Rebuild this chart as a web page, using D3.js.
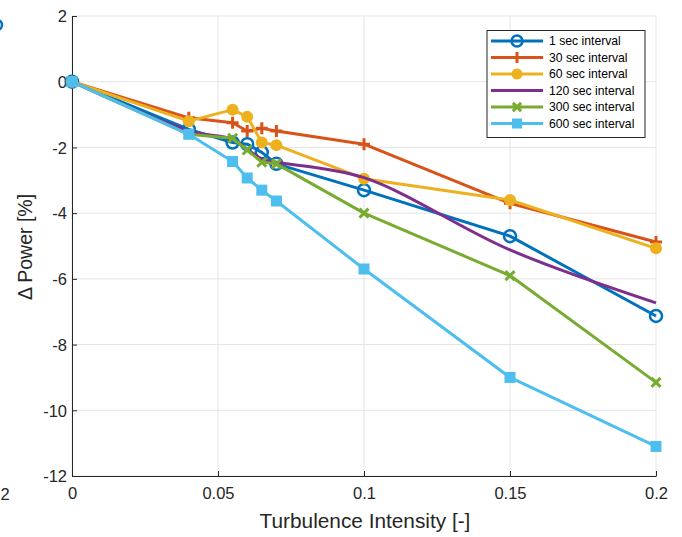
<!DOCTYPE html>
<html><head><meta charset="utf-8">
<script src="https://cdn.jsdelivr.net/npm/d3@7"></script>
<style>body{margin:0;background:#fff;}svg{display:block;font-family:"Liberation Sans",Arial,sans-serif;}</style>
</head><body><svg id="c" width="682" height="537"></svg>
<script>
const xVals = [0, 0.04, 0.055, 0.06, 0.065, 0.07, 0.1, 0.15, 0.2];
const sec1   = [0, -1.45, -1.85, -1.9, -2.15, -2.5, -3.3, -4.7, -7.13];
const sec30  = [0, -1.1, -1.25, -1.5, -1.42, -1.5, -1.9, -3.7, -4.88];
const sec60  = [0, -1.2, -0.85, -1.07, -1.85, -1.93, -2.95, -3.6, -5.07];
const sec120 = [0, -1.5, -1.75, -2.05, -2.35, -2.45, -2.92, -5.12, -6.73];
const sec300 = [0, -1.6, -1.72, -2.08, -2.45, -2.5, -4.0, -5.9, -9.15];
const sec600 = [0, -1.6, -2.43, -2.93, -3.3, -3.63, -5.7, -9.0, -11.1];
const seriesNames = ["1 sec interval","30 sec interval","60 sec interval","120 sec interval","300 sec interval","600 sec interval"];
const xTicks = [0, 0.05, 0.1, 0.15, 0.2];
const xTickLabels = ["0","0.05","0.1","0.15","0.2"];
const yTicks = [-12,-10,-8,-6,-4,-2,0,2];
const yTickLabels = ["-12","-10","-8","-6","-4","-2","0","2"];

const series = [
  {name:seriesNames[0], v:sec1, color:"#0072BD", marker:"circle"},
  {name:seriesNames[1], v:sec30, color:"#D95319", marker:"plus"},
  {name:seriesNames[2], v:sec60, color:"#EDB120", marker:"dot"},
  {name:seriesNames[3], v:sec120, color:"#7E2F8E", marker:"none", smooth:true},
  {name:seriesNames[4], v:sec300, color:"#77AC30", marker:"x"},
  {name:seriesNames[5], v:sec600, color:"#4DBEEE", marker:"square"}
];

const svg = d3.select("#c");
const x = d3.scaleLinear().domain([0,0.2]).range([72,656]);
const y = d3.scaleLinear().domain([-12,2]).range([476,16]);
const tc = "#262626";

// stray pieces from neighbouring panel
svg.append("circle").attr("cx",-3).attr("cy",25).attr("r",5).attr("fill","none").attr("stroke","#0072BD").attr("stroke-width",2.5);
svg.append("text").attr("x",0.5).attr("y",500).attr("font-size",16.5).attr("fill",tc).text("2");

// grid
const g = svg.append("g");
xTicks.forEach(t=>g.append("line").attr("x1",x(t)).attr("x2",x(t)).attr("y1",16).attr("y2",476).attr("stroke","#e5e5e5").attr("stroke-width",1));
yTicks.forEach(t=>g.append("line").attr("x1",72).attr("x2",656).attr("y1",y(t)).attr("y2",y(t)).attr("stroke","#e5e5e5").attr("stroke-width",1));

// axes
const xa = svg.append("g").attr("transform","translate(0,476)")
  .call(d3.axisBottom(x).tickValues(xTicks).tickFormat((d,i)=>xTickLabels[i]).tickSizeInner(-5).tickSizeOuter(0).tickPadding(11));
const ya = svg.append("g").attr("transform","translate(72,0)")
  .call(d3.axisLeft(y).tickValues(yTicks).tickFormat((d,i)=>yTickLabels[i]).tickSizeInner(-5).tickSizeOuter(0).tickPadding(5));
[xa,ya].forEach(a=>{
  a.select(".domain").attr("stroke",tc).attr("stroke-width",1);
  a.selectAll(".tick line").attr("stroke",tc);
  a.selectAll(".tick text").attr("fill",tc).attr("font-size",16.5).attr("font-family","Liberation Sans, Arial, sans-serif");
});
ya.selectAll(".tick text").attr("dy","0.35em");

// labels
svg.append("text").attr("x",365).attr("y",528).attr("text-anchor","middle").attr("font-size",20.8).attr("fill",tc).text("Turbulence Intensity [-]");
svg.append("text").attr("transform","translate(32,247) rotate(-90)").attr("text-anchor","middle").attr("font-size",19.5).attr("fill",tc).text("\u0394 Power [%]");

function drawMarker(sel, type, cx, cy, color, s){
  if(type==="circle") sel.append("circle").attr("cx",cx).attr("cy",cy).attr("r",s).attr("fill","none").attr("stroke",color).attr("stroke-width",2.5);
  else if(type==="dot") sel.append("circle").attr("cx",cx).attr("cy",cy).attr("r",s).attr("fill",color);
  else if(type==="plus") sel.append("path").attr("d",`M${cx-s},${cy}H${cx+s}M${cx},${cy-s}V${cy+s}`).attr("stroke",color).attr("stroke-width",3);
  else if(type==="x") {const k=s*0.75; sel.append("path").attr("d",`M${cx-k},${cy-k}L${cx+k},${cy+k}M${cx-k},${cy+k}L${cx+k},${cy-k}`).attr("stroke",color).attr("stroke-width",3);}
  else if(type==="square") sel.append("rect").attr("x",cx-s).attr("y",cy-s).attr("width",2*s).attr("height",2*s).attr("fill",color);
}

const plot = svg.append("g");
series.forEach(s=>{
  const pts = xVals.map((xv,i)=>[x(xv),y(s.v[i])]);
  const line = d3.line().curve(s.smooth?d3.curveCatmullRom.alpha(0.5):d3.curveLinear);
  plot.append("path").attr("d",line(pts)).attr("fill","none").attr("stroke",s.color).attr("stroke-width",3).attr("stroke-linejoin","round");
  if(s.marker!=="none"){
    const mg = plot.append("g");
    pts.forEach(p=>drawMarker(mg,s.marker,p[0],p[1],s.color,s.marker==="square"?5.5:6));
  }
});

// legend
const lg = svg.append("g");
lg.append("rect").attr("x",487).attr("y",30.5).attr("width",158).attr("height",107).attr("fill","#fff").attr("stroke","#262626").attr("stroke-width",1);
series.forEach((s,i)=>{
  const yy = 41 + i*16.5;
  lg.append("line").attr("x1",491).attr("x2",543).attr("y1",yy).attr("y2",yy).attr("stroke",s.color).attr("stroke-width",3);
  if(s.marker!=="none") drawMarker(lg,s.marker,517,yy,s.color,s.marker==="square"?5:5.5);
  lg.append("text").attr("x",549).attr("y",yy).attr("dy","0.35em").attr("font-size",12.2).attr("fill","#000").text(s.name);
});
</script></body></html>
